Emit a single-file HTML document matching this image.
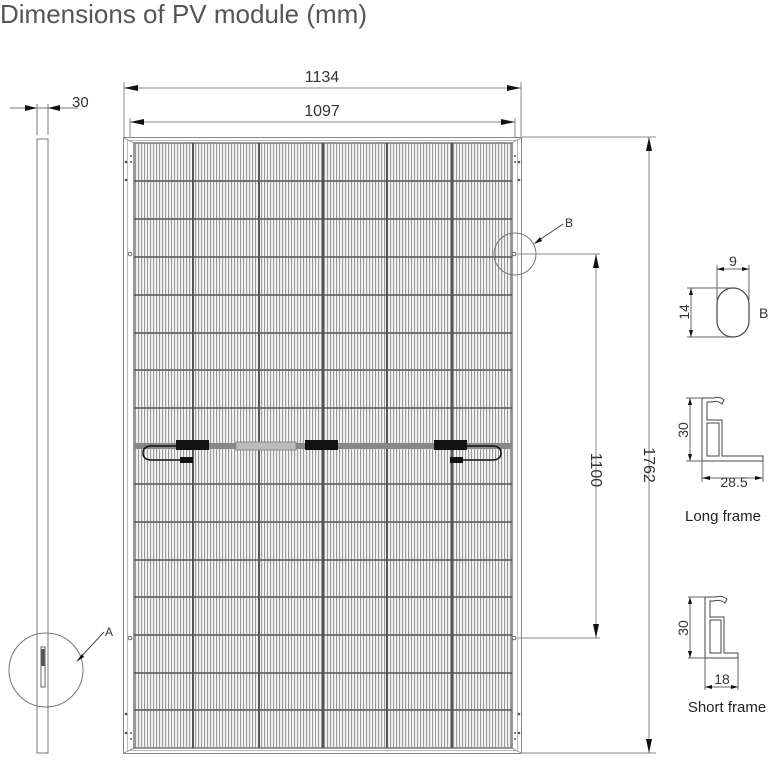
<!DOCTYPE html>
<html><head><meta charset="utf-8"><style>
html,body{margin:0;padding:0;background:#fff;width:776px;height:760px;overflow:hidden}
svg{display:block}
text{font-family:"Liberation Sans",sans-serif;fill:#333}
</style></head><body>
<svg width="776" height="760" viewBox="0 0 776 760" xmlns="http://www.w3.org/2000/svg">
<defs>
<pattern id="st" x="0" y="0" width="3" height="10" patternUnits="userSpaceOnUse">
<rect width="3" height="10" fill="#f4f4f4"/>
<rect x="0" width="1.1" height="10" fill="#9a9a9a"/>
</pattern>
</defs>

<text x="0" y="23" font-size="26" style="fill:#555">Dimensions of PV module (mm)</text>

<!-- side view -->
<line x1="10" y1="108" x2="78" y2="108" stroke="#777" stroke-width="1"/>
<path d="M37,108 l-12,-3 v6z M48,108 l12,-3 v6z" fill="#111"/>
<text x="72" y="107" font-size="15">30</text>
<line x1="37" y1="104" x2="37" y2="135" stroke="#777"/>
<line x1="48" y1="104" x2="48" y2="135" stroke="#777"/>
<rect x="37" y="139" width="11" height="614" fill="none" stroke="#777" stroke-width="1"/>
<circle cx="46" cy="670" r="37" fill="none" stroke="#777"/>
<rect x="41" y="647" width="4" height="40" fill="none" stroke="#666"/>
<rect x="41.5" y="649" width="3" height="17" fill="#555"/>
<line x1="78" y1="660" x2="104" y2="632" stroke="#444"/>
<path d="M76,662 L82,654 L84,657 Z" fill="#111"/>
<text x="105" y="636" font-size="12">A</text>

<!-- top dims -->
<line x1="124" y1="82" x2="124" y2="137" stroke="#888"/>
<line x1="521" y1="82" x2="521" y2="137" stroke="#888"/>
<line x1="124" y1="88" x2="521" y2="88" stroke="#888"/>
<path d="M124,88 l14,-3 v6z M521,88 l-14,-3 v6z" fill="#111"/>
<text x="322" y="82" font-size="16" text-anchor="middle">1134</text>
<line x1="130" y1="118" x2="130" y2="137" stroke="#888"/>
<line x1="515" y1="118" x2="515" y2="137" stroke="#888"/>
<line x1="130" y1="122" x2="515" y2="122" stroke="#888"/>
<path d="M130,122 l14,-3 v6z M515,122 l-14,-3 v6z" fill="#111"/>
<text x="322" y="116" font-size="16" text-anchor="middle">1097</text>

<!-- panel frame -->
<rect x="123.5" y="137.5" width="398" height="616" fill="#fff" stroke="#888"/>
<rect x="127.5" y="140.5" width="390" height="610" fill="none" stroke="#bbb"/>
<line x1="124" y1="138" x2="134" y2="143" stroke="#999"/>
<line x1="521" y1="138" x2="512" y2="143" stroke="#999"/>
<line x1="124" y1="753" x2="134" y2="748" stroke="#999"/>
<line x1="521" y1="753" x2="512" y2="748" stroke="#999"/>
<rect x="134" y="143" width="378" height="605" fill="url(#st)"/>
<rect x="134" y="143" width="378" height="605" fill="none" stroke="#777" stroke-width="1.5"/>
<g stroke="#555" stroke-width="2">
<line x1="193" y1="143" x2="193" y2="748"/>
<line x1="259" y1="143" x2="259" y2="748"/>
<line x1="323" y1="143" x2="323" y2="748"/>
<line x1="387" y1="143" x2="387" y2="748"/>
<line x1="452" y1="143" x2="452" y2="748"/>
</g>
<g stroke="#555" stroke-width="1.5">
<line x1="134" y1="181" x2="512" y2="181"/>
<line x1="134" y1="219" x2="512" y2="219"/>
<line x1="134" y1="257" x2="512" y2="257"/>
<line x1="134" y1="295" x2="512" y2="295"/>
<line x1="134" y1="333" x2="512" y2="333"/>
<line x1="134" y1="370" x2="512" y2="370"/>
<line x1="134" y1="408" x2="512" y2="408"/>
<line x1="134" y1="484" x2="512" y2="484"/>
<line x1="134" y1="522" x2="512" y2="522"/>
<line x1="134" y1="560" x2="512" y2="560"/>
<line x1="134" y1="597" x2="512" y2="597"/>
<line x1="134" y1="635" x2="512" y2="635"/>
<line x1="134" y1="673" x2="512" y2="673"/>
<line x1="134" y1="710" x2="512" y2="710"/>
</g>
<rect x="134" y="443" width="378" height="6" fill="#888"/>
<rect x="236" y="442" width="60" height="8" fill="#bbb" stroke="#888"/>
<rect x="176" y="440" width="33" height="10" fill="#111"/>
<rect x="305" y="440" width="33" height="10" fill="#111"/>
<rect x="434" y="440" width="33" height="10" fill="#111"/>
<path d="M176,446 H152 Q143,446 143,453 Q143,460 152,460 H182" fill="none" stroke="#111" stroke-width="1.5"/>
<rect x="180" y="457" width="13" height="6" fill="#111"/>
<path d="M467,446 H492 Q501,446 501,453 Q501,460 492,460 H462" fill="none" stroke="#111" stroke-width="1.5"/>
<rect x="450" y="457" width="13" height="6" fill="#111"/>
<g fill="#555">
<circle cx="126" cy="162" r="1.3"/><circle cx="126" cy="180" r="1.3"/><circle cx="131" cy="156" r="1"/><circle cx="131" cy="162" r="1"/>
<circle cx="519" cy="162" r="1.3"/><circle cx="519" cy="180" r="1.3"/><circle cx="515" cy="156" r="1"/><circle cx="515" cy="162" r="1"/>
<circle cx="126" cy="714" r="1.3"/><circle cx="126" cy="733" r="1.3"/><circle cx="131" cy="733" r="1"/><circle cx="131" cy="739" r="1"/>
<circle cx="519" cy="714" r="1.3"/><circle cx="519" cy="733" r="1.3"/><circle cx="515" cy="733" r="1"/><circle cx="515" cy="739" r="1"/>
</g>
<circle cx="130" cy="254" r="1.8" fill="#fff" stroke="#666"/>
<circle cx="514" cy="254" r="1.8" fill="#fff" stroke="#666"/>
<circle cx="130" cy="638" r="1.8" fill="#fff" stroke="#666"/>
<circle cx="514" cy="638" r="1.8" fill="#fff" stroke="#666"/>
<circle cx="515" cy="254" r="21" fill="none" stroke="#777"/>
<line x1="535" y1="243" x2="563" y2="224" stroke="#444"/>
<path d="M534,244 L540,237 L542,241 Z" fill="#111"/>
<text x="565" y="227" font-size="12">B</text>

<!-- right dims -->
<line x1="522" y1="137" x2="656" y2="137" stroke="#888"/>
<line x1="522" y1="753" x2="656" y2="753" stroke="#888"/>
<line x1="649" y1="137" x2="649" y2="753" stroke="#888"/>
<path d="M649,137 l-3,14 h6z M649,753 l-3,-14 h6z" fill="#111"/>
<text transform="translate(644,465) rotate(90)" font-size="16" text-anchor="middle">1762</text>
<line x1="518" y1="254" x2="600" y2="254" stroke="#888"/>
<line x1="518" y1="638" x2="600" y2="638" stroke="#888"/>
<line x1="596" y1="254" x2="596" y2="638" stroke="#888"/>
<path d="M596,254 l-3,14 h6z M596,638 l-3,-14 h6z" fill="#111"/>
<text transform="translate(591,470) rotate(90)" font-size="16" text-anchor="middle">1100</text>

<!-- B detail -->
<rect x="717" y="288" width="32" height="49" rx="16" ry="16" fill="none" stroke="#444" stroke-width="1.2"/>
<line x1="717" y1="265" x2="717" y2="300" stroke="#666"/>
<line x1="749" y1="265" x2="749" y2="300" stroke="#666"/>
<line x1="717" y1="269" x2="749" y2="269" stroke="#666"/>
<path d="M717,269 l7,-2 v4z M749,269 l-7,-2 v4z" fill="#111"/>
<text x="733" y="266" font-size="14" text-anchor="middle">9</text>
<line x1="687" y1="288" x2="730" y2="288" stroke="#666"/>
<line x1="687" y1="337" x2="730" y2="337" stroke="#666"/>
<line x1="691" y1="288" x2="691" y2="337" stroke="#666"/>
<path d="M691,288 l-2,7 h4z M691,337 l-2,-7 h4z" fill="#111"/>
<text transform="translate(689,312) rotate(-90)" font-size="14" text-anchor="middle">14</text>
<text x="759" y="318" font-size="14">B</text>

<!-- long frame -->
<g fill="none" stroke="#444" stroke-width="1">
<path d="M702,398 H714 Q720,396 724,400 L722,404 Q718,400 712,402 H707 V420 H722 V456 H763 V461 H702 Z"/>
<rect x="707" y="423" width="12" height="33"/>
</g>
<line x1="686" y1="398" x2="702" y2="398" stroke="#666"/>
<line x1="686" y1="461" x2="702" y2="461" stroke="#666"/>
<line x1="690" y1="398" x2="690" y2="461" stroke="#666"/>
<path d="M690,398 l-2,7 h4z M690,461 l-2,-7 h4z" fill="#111"/>
<text transform="translate(688,430) rotate(-90)" font-size="14" text-anchor="middle">30</text>
<line x1="702" y1="461" x2="702" y2="482" stroke="#666"/>
<line x1="763" y1="461" x2="763" y2="482" stroke="#666"/>
<line x1="702" y1="478" x2="763" y2="478" stroke="#666"/>
<path d="M702,478 l8,-2 v4z M763,478 l-8,-2 v4z" fill="#111"/>
<text x="734" y="487" font-size="14" text-anchor="middle">28.5</text>
<text x="723" y="521" font-size="15" text-anchor="middle" style="fill:#222">Long frame</text>

<!-- short frame -->
<g fill="none" stroke="#444" stroke-width="1">
<path d="M705,597 H716 Q722,595 727,599 L725,603 Q720,599 714,601 H710 V617 H724 V653 H738 V658 H705 Z"/>
<rect x="710" y="620" width="11" height="33"/>
</g>
<line x1="688" y1="597" x2="705" y2="597" stroke="#666"/>
<line x1="688" y1="658" x2="705" y2="658" stroke="#666"/>
<line x1="690" y1="597" x2="690" y2="658" stroke="#666"/>
<path d="M690,597 l-2,7 h4z M690,658 l-2,-7 h4z" fill="#111"/>
<text transform="translate(688,628) rotate(-90)" font-size="14" text-anchor="middle">30</text>
<line x1="705" y1="658" x2="705" y2="690" stroke="#666"/>
<line x1="738" y1="658" x2="738" y2="690" stroke="#666"/>
<line x1="705" y1="687" x2="738" y2="687" stroke="#666"/>
<path d="M705,687 l7,-2 v4z M738,687 l-7,-2 v4z" fill="#111"/>
<text x="722" y="684" font-size="14" text-anchor="middle">18</text>
<text x="727" y="712" font-size="15" text-anchor="middle" style="fill:#222">Short frame</text>
</svg>
</body></html>
